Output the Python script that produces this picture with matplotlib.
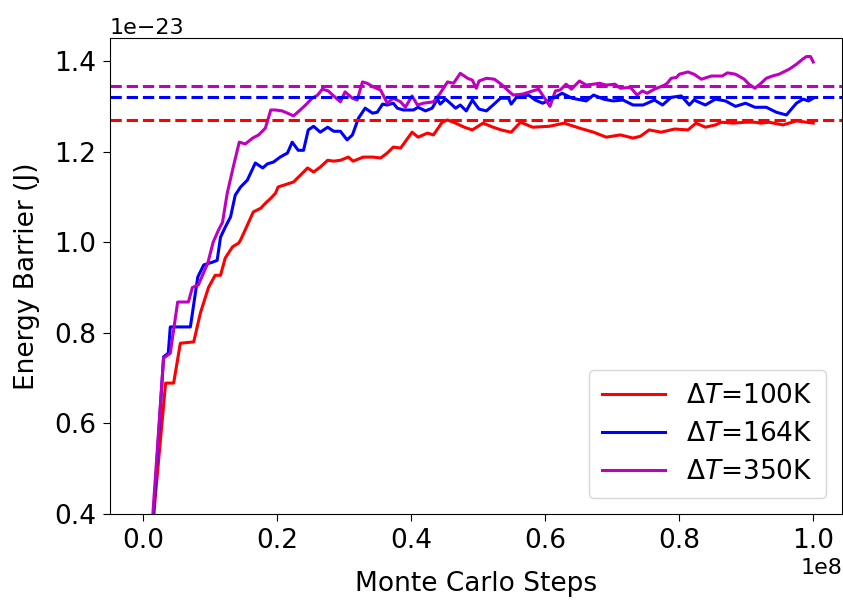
import matplotlib
matplotlib.use("Agg")
import matplotlib.pyplot as plt
import numpy as np

# steps in units of 1e6, energy in units of 1e-23 J
red_steps = [0, 3.3, 4.5, 5.5, 7.5, 8.5, 9.7, 10.7, 11.5, 12.2, 13.3, 14.2, 14.5, 16.4, 17.5, 18.2,
             19.0, 19.7, 20.1, 22.4, 24.5, 25.4, 26.4, 27.5, 28.4, 29.4, 30.6, 31.3, 32.8, 34.3,
             35.4, 36.4, 37.3, 38.4, 40.1, 41.0, 42.4, 43.3, 44.6, 45.4, 46.6, 47.9, 49.1, 50.7,
             52.2, 53.4, 54.9, 56.3, 58.1, 60.6, 62.8, 65.1, 67.2, 69.1, 71.2, 73.1, 74.2, 75.5,
             77.3, 79.3, 81.3, 82.5, 83.9, 85.4, 86.3, 88.1, 89.9, 91.3, 92.1, 93.4, 95.5, 97.5,
             99.0, 100.0]
red_vals = [0.15, 0.689, 0.689, 0.777, 0.78, 0.844, 0.90, 0.927, 0.927, 0.965, 0.99, 0.998, 1.005,
            1.067, 1.075, 1.086, 1.097, 1.108, 1.122, 1.133, 1.164, 1.155, 1.166, 1.181, 1.179,
            1.181, 1.188, 1.179, 1.188, 1.188, 1.186, 1.197, 1.21, 1.208, 1.243, 1.232, 1.241,
            1.237, 1.265, 1.27, 1.263, 1.254, 1.248, 1.263, 1.254, 1.248, 1.243, 1.265, 1.254,
            1.256, 1.263, 1.252, 1.243, 1.232, 1.237, 1.23, 1.234, 1.248, 1.243, 1.25, 1.248,
            1.263, 1.254, 1.259, 1.265, 1.263, 1.265, 1.265, 1.263, 1.265, 1.259, 1.268, 1.265,
            1.263]

blue_steps = [0, 3.0, 3.7, 4.0, 7.0, 8.1, 9.0, 10.3, 11.0, 11.5, 12.2, 13.0, 13.7, 14.5, 15.5,
              16.7, 17.8, 18.5, 19.4, 20.4, 21.5, 22.2, 23.1, 23.9, 24.6, 25.4, 26.4, 27.5, 28.4,
              29.4, 30.4, 31.2, 32.1, 33.1, 34.2, 34.9, 35.7, 36.4, 37.3, 37.9, 38.8, 40.3, 41.0,
              42.1, 43.1, 43.9, 44.3, 45.1, 45.8, 46.6, 47.3, 48.2, 49.1, 50.1, 51.2, 52.2, 53.3,
              54.5, 54.9, 55.7, 57.5, 58.5, 59.6, 61.0, 62.5, 64.0, 66.1, 67.2, 68.7, 70.1, 71.6,
              73.1, 74.6, 76.3, 77.5, 78.8, 80.3, 81.5, 82.2, 83.9, 85.4, 86.9, 88.4, 89.9, 91.3,
              93.0, 94.5, 96.0, 97.5, 98.5, 99.3, 100.0]
blue_vals = [0.05, 0.747, 0.755, 0.813, 0.813, 0.923, 0.95, 0.956, 0.96, 1.011, 1.033, 1.056,
             1.104, 1.122, 1.137, 1.175, 1.164, 1.173, 1.177, 1.188, 1.197, 1.221, 1.203, 1.203,
             1.248, 1.256, 1.243, 1.254, 1.245, 1.245, 1.226, 1.237, 1.274, 1.296, 1.285, 1.287,
             1.305, 1.303, 1.307, 1.296, 1.292, 1.292, 1.298, 1.29, 1.296, 1.316, 1.305, 1.316,
             1.307, 1.296, 1.303, 1.29, 1.314, 1.294, 1.29, 1.303, 1.318, 1.318, 1.305, 1.32,
             1.325, 1.314, 1.307, 1.316, 1.329, 1.318, 1.312, 1.325, 1.316, 1.312, 1.314, 1.303,
             1.303, 1.314, 1.303, 1.32, 1.323, 1.303, 1.314, 1.303, 1.316, 1.312, 1.30, 1.307,
             1.298, 1.298, 1.287, 1.281, 1.307, 1.316, 1.312, 1.318]

mag_steps = [0, 3.0, 4.0, 5.1, 6.7, 7.3, 8.2, 9.6, 10.4, 11.2, 11.8, 12.5, 13.4, 14.3, 15.2, 16.3,
             17.2, 18.2, 19.0, 19.7, 20.7, 21.5, 22.4, 23.4, 24.2, 25.2, 26.0, 26.7, 27.6, 28.4,
             29.4, 30.1, 31.2, 31.9, 32.7, 33.4, 34.3, 35.4, 36.4, 37.3, 38.4, 39.1, 40.1, 40.9,
             41.8, 43.3, 44.3, 45.4, 46.3, 47.3, 48.4, 49.1, 49.7, 50.1, 51.2, 52.4, 53.4, 54.5,
             55.2, 56.6, 58.1, 59.0, 59.9, 60.7, 61.5, 62.2, 63.1, 63.9, 65.1, 66.1, 67.2, 68.1,
             69.1, 70.4, 71.2, 72.7, 73.7, 74.5, 75.2, 76.3, 77.8, 78.2, 78.8, 79.6, 80.0, 81.3,
             82.2, 83.3, 84.8, 86.4, 87.2, 88.4, 89.7, 90.4, 91.3, 92.2, 93.0, 93.9, 94.9, 96.4,
             97.5, 98.4, 99.0, 99.6, 100.0]
mag_vals = [0.1, 0.744, 0.755, 0.868, 0.868, 0.90, 0.906, 0.954, 1.0, 1.027, 1.044, 1.108, 1.166,
            1.221, 1.217, 1.23, 1.237, 1.252, 1.292, 1.292, 1.29, 1.285, 1.279, 1.292, 1.303,
            1.318, 1.325, 1.338, 1.334, 1.323, 1.31, 1.332, 1.318, 1.314, 1.354, 1.351, 1.343,
            1.336, 1.307, 1.318, 1.31, 1.298, 1.323, 1.303, 1.307, 1.31, 1.329, 1.354, 1.351,
            1.373, 1.362, 1.358, 1.34, 1.356, 1.362, 1.36, 1.349, 1.334, 1.325, 1.327, 1.334,
            1.338, 1.318, 1.30, 1.334, 1.336, 1.349, 1.338, 1.356, 1.347, 1.349, 1.351, 1.347,
            1.349, 1.34, 1.342, 1.325, 1.334, 1.329, 1.338, 1.347, 1.351, 1.362, 1.364, 1.371,
            1.376, 1.371, 1.36, 1.367, 1.367, 1.374, 1.371, 1.36, 1.349, 1.34, 1.351, 1.362,
            1.367, 1.371, 1.382, 1.393, 1.404, 1.41, 1.41, 1.398]

mean_vals = [1.270, 1.320, 1.346]
labels = [r'$\Delta T$=100K', r'$\Delta T$=164K', r'$\Delta T$=350K']
colors = ['r', 'b', 'm']

fig = plt.figure(figsize=(8.43, 6.01), dpi=100)
ax = fig.add_axes([0.1305, 0.1448, 0.8683, 0.792])

series = [(red_steps, red_vals), (blue_steps, blue_vals), (mag_steps, mag_vals)]
for (s, v), c, lab in zip(series, colors, labels):
    ax.plot(np.array(s) * 1e6, np.array(v) * 1e-23, color=c, lw=2.2, label=lab)
for c, m in zip(colors, mean_vals):
    ax.axhline(m * 1e-23, color=c, lw=2.2, ls='--')

ax.set_xlim(-0.05e8, 1.043e8)
ax.set_ylim(0.4e-23, 1.451e-23)
ax.set_yticks(np.array([0.4, 0.6, 0.8, 1.0, 1.2, 1.4]) * 1e-23)
ax.set_xticks(np.array([0.0, 0.2, 0.4, 0.6, 0.8, 1.0]) * 1e8)
ax.tick_params(labelsize=19, length=5, pad=5)
ax.xaxis.get_offset_text().set_fontsize(16)
ax.yaxis.get_offset_text().set_fontsize(16)
ax.set_xlabel('Monte Carlo Steps', fontsize=19, labelpad=12)
ax.set_ylabel('Energy Barrier (J)', fontsize=19, labelpad=10)
ax.legend(loc='lower right', fontsize=19, handlelength=2.4, borderpad=0.5,
          labelspacing=0.45, borderaxespad=0.6)

fig.savefig('out.png', dpi=100)
